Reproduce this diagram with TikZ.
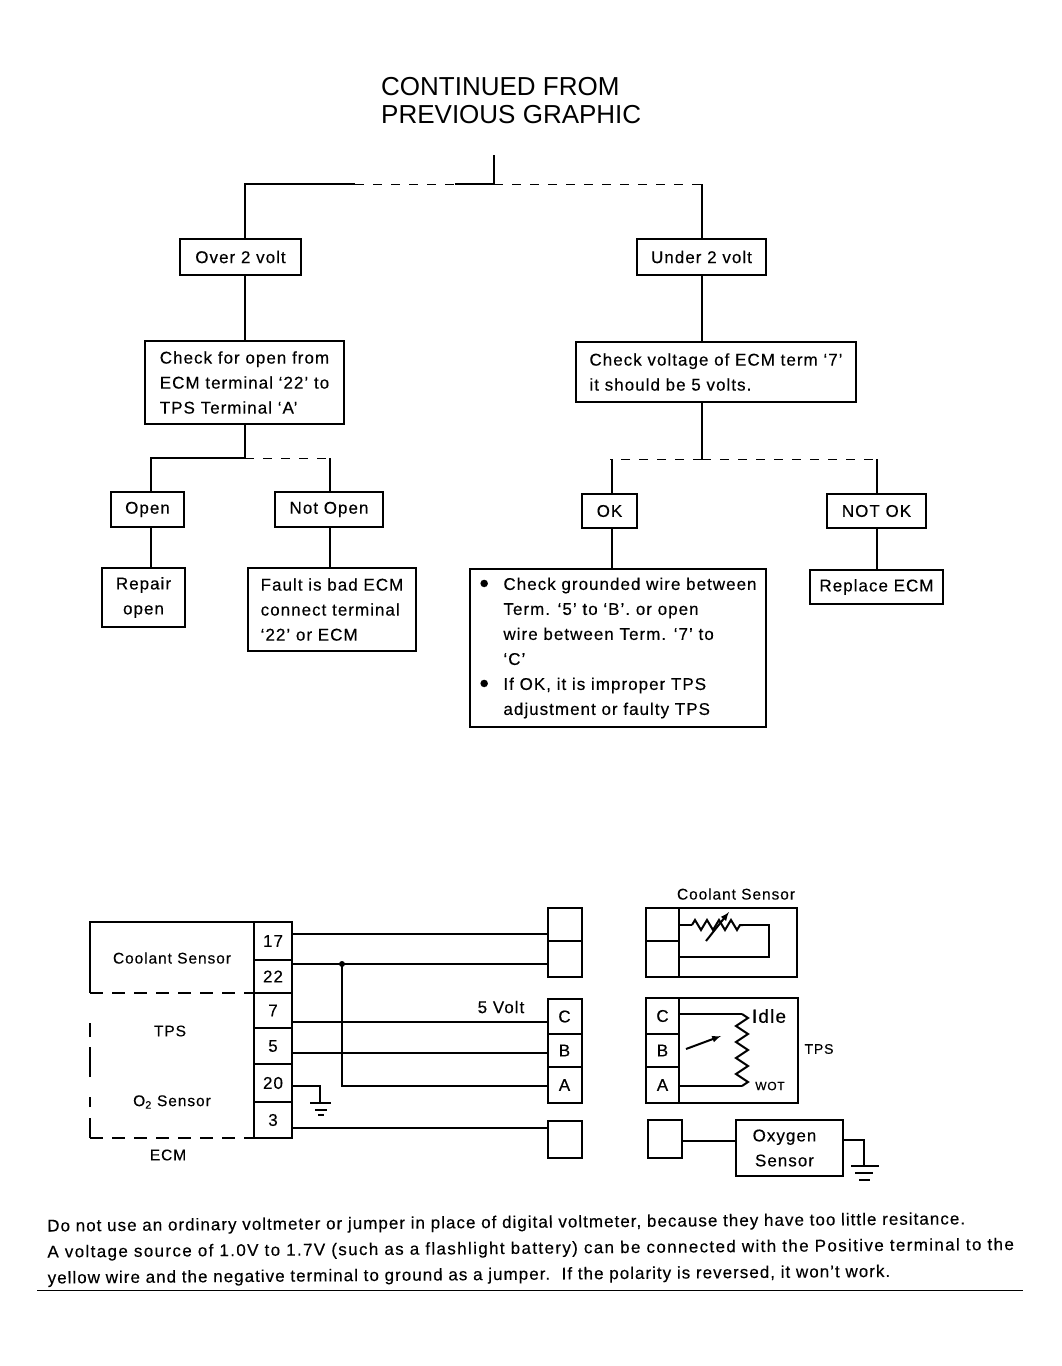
\documentclass[tikz,border=0pt]{standalone}
\usepackage{fontspec}
\setmainfont[LetterSpace=6,FakeBold=0.3]{Liberation Sans}
\newfontfamily\titlefont{Liberation Sans}
\usetikzlibrary{decorations.pathmorphing}
\newcommand{\bul}{\makebox[24pt][l]{\fontsize{27}{25}\selectfont\raisebox{-2.5pt}{\textbullet}}}
\newcommand{\nobul}{\hspace*{24pt}}
\begin{document}
\begin{tikzpicture}[x=1pt,y=-1pt,
  wire/.style={line width=2pt},
  faded/.style={line width=1pt,dash pattern=on 9pt off 9pt},
  box/.style={draw,line width=2pt,inner sep=0pt,outer sep=0pt,align=left,
    font=\fontsize{17}{25}\selectfont},
  pin/.style={box,minimum width=38pt,align=center},
  plug/.style={box,minimum width=34pt,align=center},
  txt/.style={inner sep=0pt,align=center,font=\fontsize{15.5}{21}\selectfont},
  coil/.style={decorate,decoration={zigzag,segment length=12pt,amplitude=5pt}}]
  \useasboundingbox (0,0) rectangle (1061,1366);

  \node[inner sep=0pt,align=left,font=\titlefont\fontsize{26}{28}\selectfont,anchor=north west]
    (title) at (381,77) {CONTINUED FROM\\PREVIOUS GRAPHIC};

  % flow chart
  \node[box,minimum width=121pt,minimum height=36pt] (over) at (240.5,257) {Over 2 volt};
  \node[box,minimum width=129pt,minimum height=36pt] (under) at (701.5,257) {Under 2 volt};
  \node[box,minimum width=199pt,minimum height=83pt] (checkopen) at (244.5,382.5)
    {Check for open from\\ECM terminal ‘22’ to\\TPS Terminal ‘A’};
  \node[box,minimum width=280pt,minimum height=60pt] (checkvolt) at (716,372)
    {Check voltage of ECM term ‘7’\\it should be 5 volts.};
  \node[box,minimum width=73pt,minimum height=35pt] (open) at (147.5,509.5) {Open};
  \node[box,minimum width=108pt,minimum height=35pt] (notopen) at (329,509.5) {Not Open};
  \node[box,minimum width=55pt,minimum height=34pt] (ok) at (609.5,511) {OK};
  \node[box,minimum width=99pt,minimum height=34pt] (notok) at (876.5,511) {NOT OK};
  \node[box,minimum width=83pt,minimum height=59pt,align=center] (repair) at (143.5,597.5) {Repair\\open};
  \node[box,minimum width=168pt,minimum height=83pt] (fault) at (332,609.5)
    {Fault is bad ECM\\connect terminal\\‘22’ or ECM};
  \node[box,minimum width=296pt,minimum height=158pt] (grounded) at (618,648)
    {\bul Check grounded wire between\\\nobul Term. ‘5’ to ‘B’. or open\\\nobul wire between Term. ‘7’ to\\\nobul ‘C’\\\bul If OK, it is improper TPS\\\nobul adjustment or faulty TPS};
  \node[box,minimum width=133pt,minimum height=34pt] (replace) at (876.5,587) {Replace ECM};

  \coordinate (stub) at (494,155);
  \coordinate (forktop) at (494,184);
  \coordinate (forkl) at (245,458);
  \coordinate (forkr) at (702,459);
  \coordinate (fadea) at (355,184);
  \coordinate (fadeb) at (455,184);

  \draw[wire] (stub) -- (forktop);
  \draw[wire] (over.north -| checkopen.north) |- (fadea);
  \draw[faded] (fadea) -- (fadeb);
  \draw[wire] (fadeb) -- (forktop);
  \draw[faded] (forktop) -- (forktop -| under.north);
  \draw[wire] (forktop -| under.north) -- (under.north);
  \draw[wire] (checkopen.north) -- (checkopen.north |- over.south);
  \draw[wire] (under.south) -- (under.south |- checkvolt.north);
  \draw[wire] (forkl) -- (forkl |- checkopen.south);
  \draw[wire] (forkr) -- (forkr |- checkvolt.south);
  \draw[wire] ([xshift=3.5pt]open.north) |- (forkl);
  \draw[faded] (forkl) -- (forkl -| notopen.north);
  \draw[wire] ([xshift=1pt]notopen.north) -- ([xshift=1pt]notopen.north |- forkl);
  \draw[faded] (forkr) -- (forkr -| ok.north);
  \draw[wire] ([xshift=2.5pt]ok.north) -- ([xshift=2.5pt]ok.north |- forkr);
  \draw[faded] (forkr) -- (forkr -| notok.north);
  \draw[wire] (notok.north) -- (notok.north |- forkr);
  \draw[wire] ([xshift=3pt]open.south) -- ([xshift=3pt]open.south |- repair.north);
  \draw[wire] ([xshift=1pt]notopen.south) -- ([xshift=1pt]notopen.south |- fault.north);
  \draw[wire] ([xshift=2.5pt]ok.south) -- ([xshift=2.5pt]ok.south |- grounded.north);
  \draw[wire] (notok.south) -- (replace.north);

  % ECM block
  \node[pin,minimum height=38pt] (p17) at (273,941) {17};
  \node[pin,minimum height=33pt] (p22) at (273,976.5) {22};
  \node[pin,minimum height=35pt] (p7) at (273,1010.5) {7};
  \node[pin,minimum height=36pt] (p5) at (273,1046) {5};
  \node[pin,minimum height=38pt] (p20) at (273,1083) {20};
  \node[pin,minimum height=36pt] (p3) at (273,1120) {3};
  \draw[wire] (p17.north west) -- (90,922) -- (90,993);
  \draw[wire,dash pattern=on 13pt off 9pt] (90,993) -- (p7.north west);
  \draw[wire] (90,1023) -- (90,1037) (90,1047) -- (90,1077) (90,1097) -- (90,1107);
  \draw[wire] (90,1118) -- (90,1138);
  \draw[wire,dash pattern=on 13pt off 9pt] (90,1138) -- (p3.south west);
  \node[txt] (lblcool) at (172,958) {Coolant Sensor};
  \node[txt] (lbltps) at (170,1031) {TPS};
  \node[txt] (lblo2) at (172,1102) {O\textsubscript{2} Sensor};
  \node[txt] (lblecm) at (168,1155) {ECM};

  % harness plugs
  \node[plug,minimum height=33pt] (u1) at (564.5,924.5) {};
  \node[plug,minimum height=36pt] (u2) at (564.5,959) {};
  \node[plug,minimum height=35pt] (c) at (564.5,1016.5) {C};
  \node[plug,minimum height=33pt] (b) at (564.5,1050.5) {B};
  \node[plug,minimum height=36pt] (a) at (564.5,1085) {A};
  \node[plug,minimum height=37pt] (u3) at (565,1139.5) {};
  \node[txt,font=\fontsize{17}{21}\selectfont] (lblfive) at (501,1007) {5 Volt};

  \coordinate (tap) at (342,964);
  \draw[wire] (p17.east |- 0,934) -- (u1.west |- 0,934);
  \draw[wire] (p22.east |- tap) -- (u2.west |- tap);
  \draw[wire] (p7.east |- 0,1022) -- (c.west |- 0,1022);
  \draw[wire] (p5.east |- 0,1053) -- (b.west |- 0,1053);
  \draw[wire] (tap) |- (a.west |- 0,1086);
  \fill (tap) circle (3pt);
  \draw[wire] (p3.east |- 0,1128) -- (u3.west |- 0,1128);

  % grounds
  \coordinate (gnda) at (320,1103);
  \coordinate (gndb) at (864,1166);
  \draw[wire] (p20.east |- 0,1086) -| (gnda);
  \draw[wire] (310,1103) -- (331,1103) (315,1110) -- (327,1110) (318,1115) -- (324,1115);
  \draw[wire] (851,1166) -- (879,1166) (855,1173) -- (873,1173) (859,1180) -- (870,1180);

  % coolant sensor
  \node[txt] (lblsens) at (736,894) {Coolant Sensor};
  \node[plug,minimum width=33pt,minimum height=33pt] (s1) at (662.5,924.5) {};
  \node[plug,minimum width=33pt,minimum height=36pt] (s2) at (662.5,959) {};
  \draw[wire] (s1.north east) -- (797,908) -- (797,977) -- (s2.south east);
  \coordinate (ra) at (692,925);
  \coordinate (rb) at (743,925);
  \draw[wire] (s1.east |- ra) -- (ra);
  \draw[wire,coil] (ra) -- (rb);
  \draw[wire] (rb) -- (769,925) -- (769,957) -- (s2.east |- 0,957);
  \draw[wire,-latex] (706,941) -- (729,912);

  % tps
  \node[plug,minimum width=33pt,minimum height=36pt] (tc) at (662.5,1016) {C};
  \node[plug,minimum width=33pt,minimum height=33pt] (tb) at (662.5,1050.5) {B};
  \node[plug,minimum width=33pt,minimum height=36pt] (ta) at (662.5,1085) {A};
  \draw[wire] (tc.north east) -- (798,998) -- (798,1103) -- (ta.south east);
  \coordinate (wa) at (742,1014);
  \coordinate (wb) at (742,1086);
  \draw[wire] (tc.east |- wa) -- (wa);
  \draw[wire,decorate,decoration={zigzag,segment length=16pt,amplitude=6pt}] (wa) -- (wb);
  \draw[wire] (wb) -- (ta.east |- wb);
  \draw[wire,-latex] (686,1049) -- (721,1036);
  \node[txt,font=\fontsize{19}{20}\selectfont] (lblidle) at (769,1016) {Idle};
  \node[txt,font=\fontsize{12}{14}\selectfont] (lblwot) at (770,1086) {WOT};
  \node[txt,font=\fontsize{14}{16}\selectfont] (lbltp) at (819,1049) {TPS};

  % oxygen sensor
  \node[plug,minimum height=38pt] (o1) at (665,1139) {};
  \node[box,minimum width=107pt,minimum height=56pt,align=center] (oxy) at (789.5,1148)
    {Oxygen\hspace*{10pt}\\Sensor\hspace*{10pt}};
  \draw[wire] (o1.east |- 0,1141) -- (oxy.west |- 0,1141);
  \draw[wire] (oxy.east |- 0,1140) -| (gndb);

  % note
  \node[inner sep=0pt,align=left,anchor=north west,rotate=0.45,
    font=\fontsize{17}{26}\selectfont] (note) at (47,1219)
    {Do not use an ordinary voltmeter or jumper in place of digital voltmeter, because they have too little resitance.\\
     {\addfontfeature{LetterSpace=8}A voltage source of 1.0V to 1.7V (such as a flashlight battery) can be connected with the Positive terminal to the}\\
     yellow wire and the negative terminal to ground as a jumper.\ \ If the polarity is reversed, it won’t work.};
  \coordinate (rulea) at (37,1290);
  \coordinate (ruleb) at (1023,1290);
  \draw[line width=1pt] (rulea) -- (ruleb);
\end{tikzpicture}
\end{document}
